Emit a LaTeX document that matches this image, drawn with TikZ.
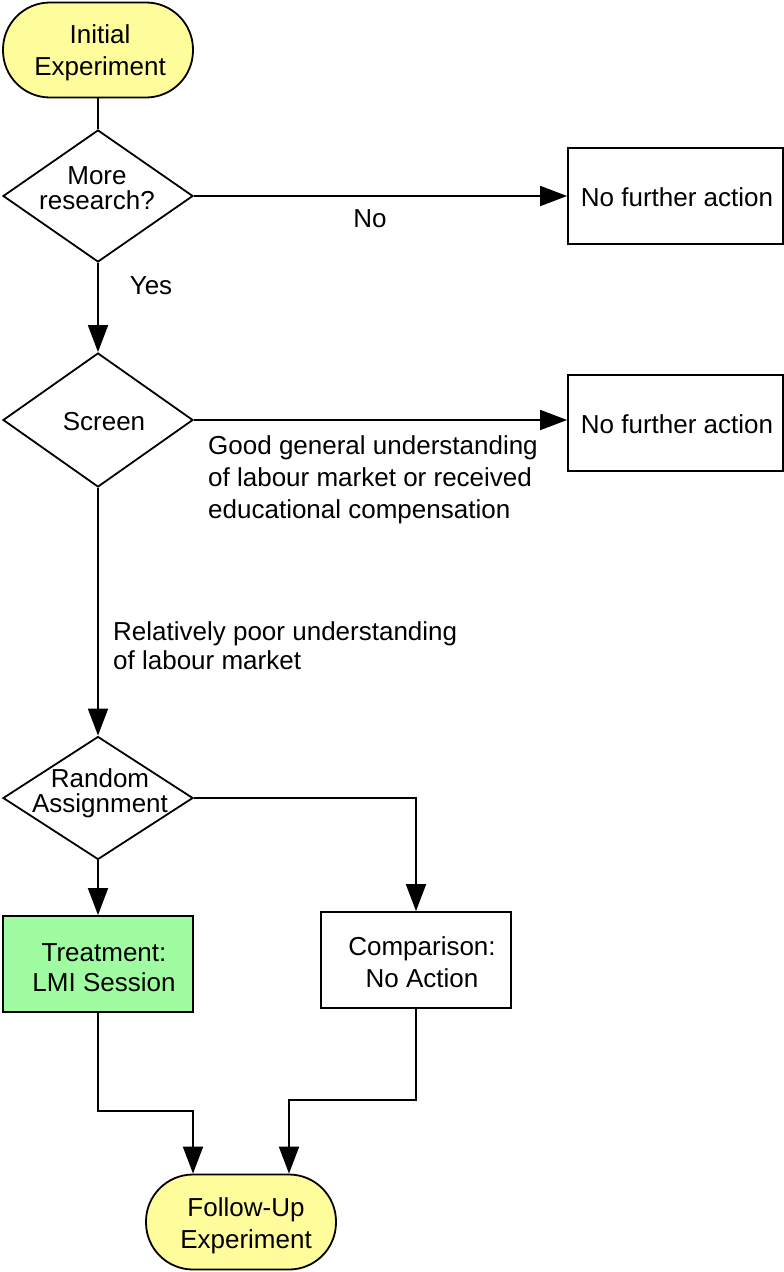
\documentclass[tikz,border=0pt]{standalone}
\usepackage{fontspec}
\setmainfont{Liberation Sans}
\usetikzlibrary{arrows.meta,shapes.geometric}
\definecolor{termfill}{RGB}{255,252,155}
\definecolor{treatfill}{RGB}{160,252,160}
\begin{document}
\begin{tikzpicture}[x=1pt,y=-1pt,
  every node/.style={font=\fontsize{26}{32}\selectfont},
  lw/.style={line width=1.8pt},
  term/.style={lw,draw,fill=termfill,minimum width=190pt,minimum height=95pt,rounded corners=47pt,inner sep=0pt},
  dia/.style={lw,draw,diamond,inner sep=0pt},
  box/.style={lw,draw,fill=white,inner sep=0pt},
  txt/.style={align=center,inner sep=0pt},
  diatxt/.style={txt,font=\fontsize{26}{25}\selectfont},
  lbl/.style={align=left,inner sep=0pt,anchor=west},
  conn/.style={lw,-{Triangle[length=27pt,width=20pt]}},
  plain/.style={lw}]
\useasboundingbox (0,0) rectangle (784,1272);
% nodes
\node[term] (ie) at (98,50) {};
\node[txt] (iet) at (100,53) {Initial\\Experiment};
\node[dia,minimum width=190pt,minimum height=132pt] (d1) at (98,196) {};
\node[diatxt] (d1t) at (97,188) {More\\research?};
\node[box,minimum width=215pt,minimum height=96pt] (nf1) at (675.5,196) {};
\node[txt] (nf1t) at (677,197) {No further action};
\node[dia,minimum width=190pt,minimum height=134pt] (d2) at (98,420) {};
\node[txt] (d2t) at (104,422) {Screen};
\node[box,minimum width=215pt,minimum height=96pt] (nf2) at (675.5,423) {};
\node[txt] (nf2t) at (677,424) {No further action};
\node[dia,minimum width=190pt,minimum height=123pt] (d3) at (98,798) {};
\node[diatxt] (d3t) at (100,793) {Random\\Assignment};
\node[box,fill=treatfill,minimum width=190pt,minimum height=96pt] (tr) at (98,964) {};
\node[txt,font=\fontsize{26}{30}\selectfont] (trt) at (104,968) {Treatment:\\LMI Session};
\node[box,minimum width=190pt,minimum height=96pt] (cp) at (416,960) {};
\node[txt] (cpt) at (422,962) {Comparison:\\No Action};
\node[term] (fu) at (241,1222) {};
\node[txt] (fut) at (246,1226) {Follow-Up\\Experiment};
% labels
\node[txt] (lno) at (370,219) {No};
\node[txt] (lyes) at (151,286) {Yes};
\node[lbl] (lgood) at (208,480) {Good general understanding\\of labour market or received\\educational compensation};
\node[lbl,font=\fontsize{26}{29}\selectfont] (lpoor) at (113,646) {Relatively poor understanding\\of labour market};
% connectors
\draw[plain] (ie.south) -- (d1.north);
\draw[conn] (d1.east) -- (nf1.west);
\draw[conn] (d1.south) -- (d2.north);
\draw[conn] (d2.east) -- (d2.east -| nf2.west);
\draw[conn] (d2.south) -- (d3.north);
\draw[conn] (d3.south) -- (tr.north);
\draw[conn] (d3.east) -| (cp.north);
\coordinate (c1) at (98,1111);
\coordinate (c2) at (193,1111);
\draw[conn] (tr.south) -- (c1) -- (c2) -- (fu.north west -| c2);
\coordinate (c3) at (416,1100);
\coordinate (c4) at (289,1100);
\draw[conn] (cp.south) -- (c3) -- (c4) -- (fu.north -| c4);
\end{tikzpicture}
\end{document}
